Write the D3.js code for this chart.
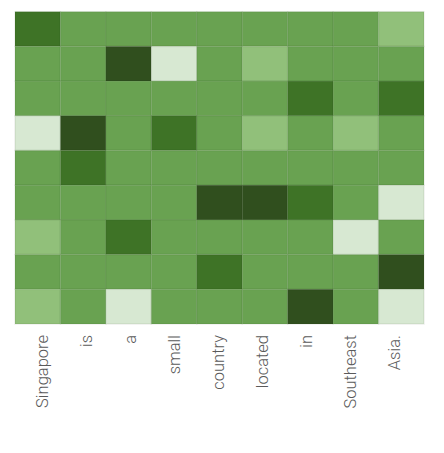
<!DOCTYPE html>
<meta charset="utf-8">
<style>
body { margin: 0; background: #fff; }
text {
  font-family: Roboto, 'Noto Sans', sans-serif;
  font-weight: 300;
  fill: #5a5a5a;
}
</style>
<body>
<svg width="444" height="453"></svg>
<script src="https://d3js.org/d3.v7.min.js"></script>
<script>

var tokens = ["Singapore", "is", "a", "small", "country", "located", "in", "Southeast", "Asia."];
var rows = [0, 1, 2, 3, 4, 5, 6, 7, 8];

// attention level per cell, read row by row (0 = palest, 1 = darkest)
var weights = [
  [0.7, 0.5, 0.5, 0.5, 0.5, 0.5, 0.5, 0.5, 0.3],
  [0.5, 0.5, 0.9, 0.1, 0.5, 0.3, 0.5, 0.5, 0.5],
  [0.5, 0.5, 0.5, 0.5, 0.5, 0.5, 0.7, 0.5, 0.7],
  [0.1, 0.9, 0.5, 0.7, 0.5, 0.3, 0.5, 0.3, 0.5],
  [0.5, 0.7, 0.5, 0.5, 0.5, 0.5, 0.5, 0.5, 0.5],
  [0.5, 0.5, 0.5, 0.5, 0.9, 0.9, 0.7, 0.5, 0.1],
  [0.3, 0.5, 0.7, 0.5, 0.5, 0.5, 0.5, 0.1, 0.5],
  [0.5, 0.5, 0.5, 0.5, 0.7, 0.5, 0.5, 0.5, 0.9],
  [0.3, 0.5, 0.1, 0.5, 0.5, 0.5, 0.9, 0.5, 0.1]
];

var greens = ["#d7e8d2", "#91c07a", "#69a251", "#3e7326", "#304f1e"];

var svg = d3.select("svg");

var x = d3.scaleBand().domain(d3.range(tokens.length)).range([15, 424]),
    y = d3.scaleBand().domain(rows).range([11.7, 324]),
    color = d3.scaleQuantize().domain([0, 1]).range(greens);

// labels sit on a slightly narrower band than the cells
var xl = d3.scaleBand().domain(d3.range(tokens.length)).range([26, 422]);

var cells = [];
weights.forEach(function(row, i) {
  row.forEach(function(v, j) {
    cells.push({row: i, col: j, value: v});
  });
});

svg.append("g")
  .selectAll("rect")
  .data(cells)
  .enter()
  .append("rect")
  .attr("x", d => x(d.col))
  .attr("y", d => y(d.row))
  .attr("width", x.bandwidth())
  .attr("height", y.bandwidth())
  .attr("fill", d => color(d.value))
  .attr("stroke", "rgba(40,70,30,0.08)")
  .attr("stroke-width", 1.5);

svg.append("g")
  .selectAll("text")
  .data(tokens)
  .enter()
  .append("text")
  .attr("transform", (d, i) => "translate(" + (xl(i) + xl.bandwidth() / 2) + ",335) rotate(-90)")
  .attr("text-anchor", "end")
  .attr("font-size", 16.5)
  .text(d => d);

</script>
</body>
